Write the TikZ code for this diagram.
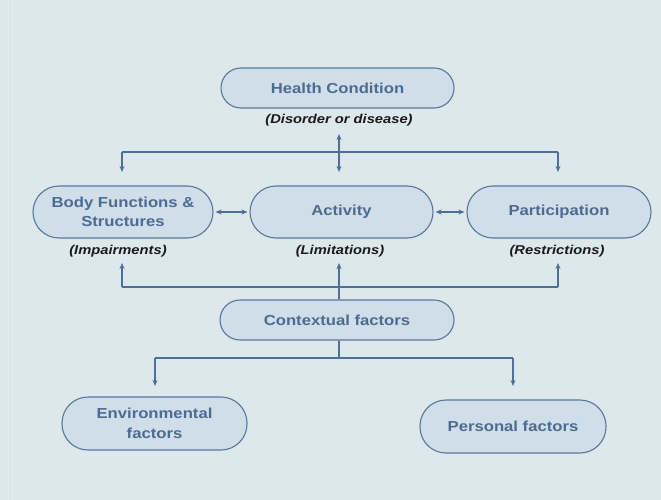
\documentclass[tikz,border=0pt]{standalone}
\usepackage{fontspec}
\setmainfont[FakeStretch=1.15]{Liberation Sans}
\usetikzlibrary{arrows.meta}
\definecolor{bgcol}{HTML}{DCE8EB}
\definecolor{boxfill}{HTML}{CFDEE9}
\definecolor{boxline}{HTML}{5B7697}
\definecolor{txtcol}{HTML}{4D6B91}
\definecolor{arrcol}{HTML}{4F6F98}
\definecolor{lblcol}{HTML}{1A1A1A}
\tikzset{
  box/.style={draw=boxline, line width=1.1pt, fill=boxfill, text=txtcol,
    font=\bfseries\fontsize{14.5}{19.5}\selectfont, align=center, inner sep=0pt},
  capsule/.style={box, rounded corners=20pt, minimum height=40pt},
  tallcapsule/.style={box, rounded corners=26pt, minimum height=52pt},
  lbl/.style={font=\bfseries\itshape\fontsize{12.8}{15}\selectfont, text=lblcol, inner sep=0pt},
  conn/.style={draw=arrcol, line width=1.3pt},
  tip/.style={-{Stealth[length=6pt,width=5pt]}},
  dtip/.style={{Stealth[length=6pt,width=5pt]}-{Stealth[length=6pt,width=5pt]}}
}
\begin{document}
\begin{tikzpicture}[x=1pt,y=-1pt]
\fill[bgcol] (0,0) rectangle (661,500);
\useasboundingbox (0,0) rectangle (661,500);
\draw[white, opacity=0.35, line width=1pt] (12,0) -- (12,500);

% nodes
\node[capsule, minimum width=233pt] (hc) at (337.5,88) {Health Condition};
\node[lbl] (hcl) at (339,120) {(Disorder or disease)};

\node[tallcapsule, minimum width=180pt] (bfs) at (123,212) {Body Functions \&\\Structures};
\node[tallcapsule, minimum width=183pt] (act) at (341.5,212) {Activity};
\node[tallcapsule, minimum width=184pt] (par) at (559,212) {Participation};

\node[lbl] (bfsl) at (118,251) {(Impairments)};
\node[lbl] (actl) at (340,251) {(Limitations)};
\node[lbl] (parl) at (557,251) {(Restrictions)};

\node[capsule, minimum width=234pt] (ctx) at (337,320) {Contextual factors};

\node[tallcapsule, minimum width=185pt, minimum height=53pt] (env) at (154.5,423.5) {Environmental\\factors};
\node[tallcapsule, minimum width=186pt, minimum height=53pt] (per) at (513,426.5) {Personal factors};

% coordinates
\coordinate (t1) at (122,152);
\coordinate (t2) at (558,152);
\coordinate (t1e) at (122,172);
\coordinate (t2e) at (558,172);
\coordinate (hcs) at (339,134);
\coordinate (hce) at (339,172);

\coordinate (b1) at (122,287);
\coordinate (b2) at (558,287);
\coordinate (b1e) at (122,263);
\coordinate (b2e) at (558,263);
\coordinate (bme) at (339,263);

\coordinate (c0) at (339,358);
\coordinate (c1) at (155,358);
\coordinate (c2) at (513,358);
\coordinate (c1e) at (155,386);
\coordinate (c2e) at (513,386);

% top connectors
\draw[conn, tip] (t1) -- (t1e);
\draw[conn, tip] (t2) -- (t2e);
\draw[conn] (t1) -- (t2);
\draw[conn, dtip] (hcs) -- (hce);

% side connectors
\draw[conn, dtip, shorten <=2pt, shorten >=2pt] (bfs.east) -- (act.west);
\draw[conn, dtip, shorten <=2pt, shorten >=2pt] (act.east) -- (par.west);

% bottom connectors
\draw[conn] (b1) -- (b2);
\draw[conn, tip] (b1) -- (b1e);
\draw[conn, tip] (b2) -- (b2e);
\draw[conn, tip] (ctx.north -| bme) -- (bme);

% contextual branches
\draw[conn] (ctx.south -| c0) -- (c0);
\draw[conn] (c1) -- (c2);
\draw[conn, tip] (c1) -- (c1e);
\draw[conn, tip] (c2) -- (c2e);
\end{tikzpicture}
\end{document}
